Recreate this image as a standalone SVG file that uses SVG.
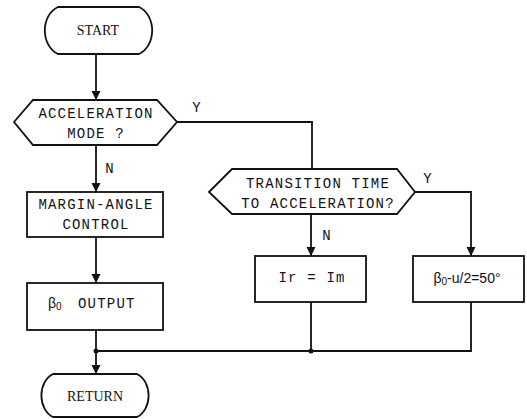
<svg xmlns="http://www.w3.org/2000/svg" width="527" height="419" viewBox="0 0 527 419">
<defs>
<style>
.shape{fill:#fff;stroke:#111;stroke-width:1.8}
.line{fill:none;stroke:#111;stroke-width:1.8}
.t{font-family:"Liberation Mono","DejaVu Sans Mono",monospace;font-size:14px;fill:#111;text-anchor:middle;letter-spacing:1.2px}
.tl{font-family:"Liberation Mono","DejaVu Sans Mono",monospace;font-size:14px;fill:#111;text-anchor:start;letter-spacing:1.2px}
.s{font-family:"Liberation Serif","DejaVu Serif",serif;font-size:14px;fill:#111;text-anchor:middle}
.g{font-family:"Liberation Sans","DejaVu Sans",sans-serif;font-size:14px;fill:#111;text-anchor:middle}
.gl{font-family:"Liberation Sans","DejaVu Sans",sans-serif;font-size:14px;fill:#111;text-anchor:start}
</style>
<marker id="ah" viewBox="0 0 10 10" refX="10" refY="5" markerWidth="9" markerHeight="10" markerUnits="userSpaceOnUse" orient="auto">
<path d="M0,0 L10,5 L0,10 Z" fill="#111"/>
</marker>
</defs>
<rect width="527" height="419" fill="#fff"/>
<g id="connectors">
<path class="line" d="M96,54 V100" marker-end="url(#ah)"/>
<path class="line" d="M96,145 V192" marker-end="url(#ah)"/>
<path class="line" d="M177,122 H312 V169"/>
<path class="line" d="M96,237 V283" marker-end="url(#ah)"/>
<path class="line" d="M311,214 V256" marker-end="url(#ah)"/>
<path class="line" d="M415,192 H471 V256" marker-end="url(#ah)"/>
<path class="line" d="M96,330 V374" marker-end="url(#ah)"/>
<path class="line" d="M311,302 V351"/>
<path class="line" d="M471,302 V351 H96"/>
<circle cx="96" cy="351" r="2.5" fill="#111"/>
<circle cx="311" cy="351" r="2.5" fill="#111"/>
<text class="t" x="110" y="173">N</text>
<text class="t" x="197" y="112">Y</text>
<text class="t" x="327" y="240">N</text>
<text class="t" x="428" y="183">Y</text>
</g>
<g id="start">
<path class="shape" d="M58,7 H139 A20,25 0 0 1 139,54 H58 A20,25 0 0 1 58,7 Z"/>
<text class="s" x="98" y="35">START</text>
</g>
<g id="accel-mode">
<polygon class="shape" points="14,122 33,100 157,100 177,122 157,145 33,145"/>
<text class="t" x="96" y="118">ACCELERATION</text>
<text class="t" x="96" y="138">MODE ?</text>
</g>
<g id="margin-angle">
<rect class="shape" x="27" y="192" width="136" height="45"/>
<text class="t" x="96" y="209">MARGIN-ANGLE</text>
<text class="t" x="96" y="229">CONTROL</text>
</g>
<g id="beta-output">
<rect class="shape" x="27" y="283" width="136" height="47"/>
<text class="gl" x="48" y="308">β<tspan font-size="10" dy="2">0</tspan></text>
<text class="tl" x="78" y="308">OUTPUT</text>
</g>
<g id="transition">
<polygon class="shape" points="209,192 232,169 397,169 415,192 397,214 232,214"/>
<text class="t" x="318" y="188">TRANSITION TIME</text>
<text class="t" x="318" y="208">TO ACCELERATION?</text>
</g>
<g id="ir-im">
<rect class="shape" x="255" y="256" width="111" height="46"/>
<text class="t" x="312" y="282">Ir = Im</text>
</g>
<g id="beta-set">
<rect class="shape" x="413" y="256" width="111" height="46"/>
<text class="g" x="467" y="283">β<tspan font-size="10" dy="2">0</tspan><tspan dy="-2">-u/2=50°</tspan></text>
</g>
<g id="return">
<path class="shape" d="M53,374 H137 A18,23 0 0 1 137,417 H53 A18,23 0 0 1 53,374 Z"/>
<text class="s" x="95" y="401">RETURN</text>
</g>
</svg>
